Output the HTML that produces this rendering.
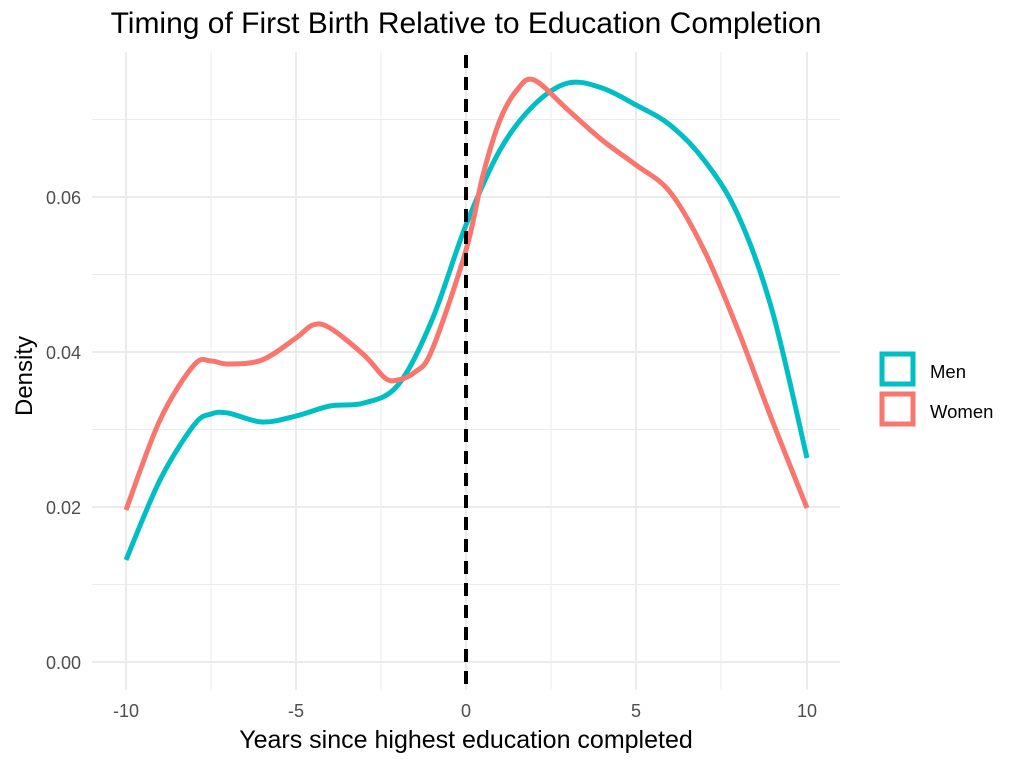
<!DOCTYPE html>
<html><head><meta charset="utf-8"><style>
body{margin:0;background:#fff;}
svg{display:block;font-family:"Liberation Sans",sans-serif;}
</style></head><body>
<svg id="s" width="1024" height="763" viewBox="0 0 1024 763">
<g stroke="#ebebeb" stroke-width="1">
<line x1="92" x2="840" y1="584.5" y2="584.5"/><line x1="92" x2="840" y1="429.5" y2="429.5"/>
<line x1="92" x2="840" y1="274.5" y2="274.5"/><line x1="92" x2="840" y1="119.5" y2="119.5"/>
<line y1="52" y2="690" x1="211" x2="211"/><line y1="52" y2="690" x1="381" x2="381"/>
<line y1="52" y2="690" x1="551" x2="551"/><line y1="52" y2="690" x1="721" x2="721"/>
</g>
<g stroke="#ebebeb" stroke-width="2">
<line x1="92" x2="840" y1="662" y2="662"/><line x1="92" x2="840" y1="507" y2="507"/>
<line x1="92" x2="840" y1="352" y2="352"/><line x1="92" x2="840" y1="197" y2="197"/>
<line y1="52" y2="690" x1="126" x2="126"/><line y1="52" y2="690" x1="296" x2="296"/>
<line y1="52" y2="690" x1="466" x2="466"/><line y1="52" y2="690" x1="636" x2="636"/>
<line y1="52" y2="690" x1="807" x2="807"/>
</g>
<path id="men" fill="none" stroke="#00BFC4" stroke-width="5"/>
<path id="women" fill="none" stroke="#F8766D" stroke-width="5"/>
<line x1="466" x2="466" y1="55" y2="690" stroke="#000" stroke-width="4" stroke-dasharray="13,9"/>
<g fill="#4d4d4d" font-size="18" text-anchor="end">
<text x="81" y="669">0.00</text><text x="81" y="514">0.02</text><text x="81" y="359">0.04</text><text x="81" y="204">0.06</text>
</g>
<g fill="#4d4d4d" font-size="18" text-anchor="middle">
<text x="126" y="717">-10</text><text x="296" y="717">-5</text><text x="466" y="717">0</text><text x="636" y="717">5</text><text x="807" y="717">10</text>
</g>
<text x="466" y="33" font-size="30" text-anchor="middle">Timing of First Birth Relative to Education Completion</text>
<text x="466" y="748" font-size="25" text-anchor="middle">Years since highest education completed</text>
<text transform="translate(32,376) rotate(-90)" font-size="24" text-anchor="middle">Density</text>
<rect x="882" y="354" width="31" height="30" fill="none" stroke="#00BFC4" stroke-width="5"/>
<rect x="882" y="394" width="31" height="30" fill="none" stroke="#F8766D" stroke-width="5"/>
<text x="930" y="378" font-size="18.5">Men</text>
<text x="930" y="418" font-size="18.5">Women</text>
</svg>
<script>
function path(p){var d="M"+p[0][0]+","+p[0][1];for(var i=0;i<p.length-1;i++){var p0=p[i-1]||p[i],p1=p[i],p2=p[i+1],p3=p[i+2]||p2;
d+=" C"+(p1[0]+(p2[0]-p0[0])/6)+","+(p1[1]+(p2[1]-p0[1])/6)+" "+(p2[0]-(p3[0]-p1[0])/6)+","+(p2[1]-(p3[1]-p1[1])/6)+" "+p2[0]+","+p2[1];}return d;}
var men=[[126,560],[160,480],[194,425],[211,414],[228,413],[262,422],[296,416],[330,406],[364,403],[398,385],[432,320],[466,225],[500,150],[534,105],[568,83],[602,88],[636,105],[670,125],[704,160],[738,215],[772,310],[807,458]];
var women=[[126,510],[160,420],[194,365],[211,361],[228,364],[262,360],[296,338],[313,325],[330,328],[364,355],[385,378],[398,380],[415,372],[432,350],[466,250],[483,175],[500,120],[517,90],[534,80],[568,110],[602,140],[636,165],[670,192],[704,250],[738,330],[772,420],[807,508]];
document.getElementById("men").setAttribute("d",path(men));
document.getElementById("women").setAttribute("d",path(women));
</script>
</body></html>
